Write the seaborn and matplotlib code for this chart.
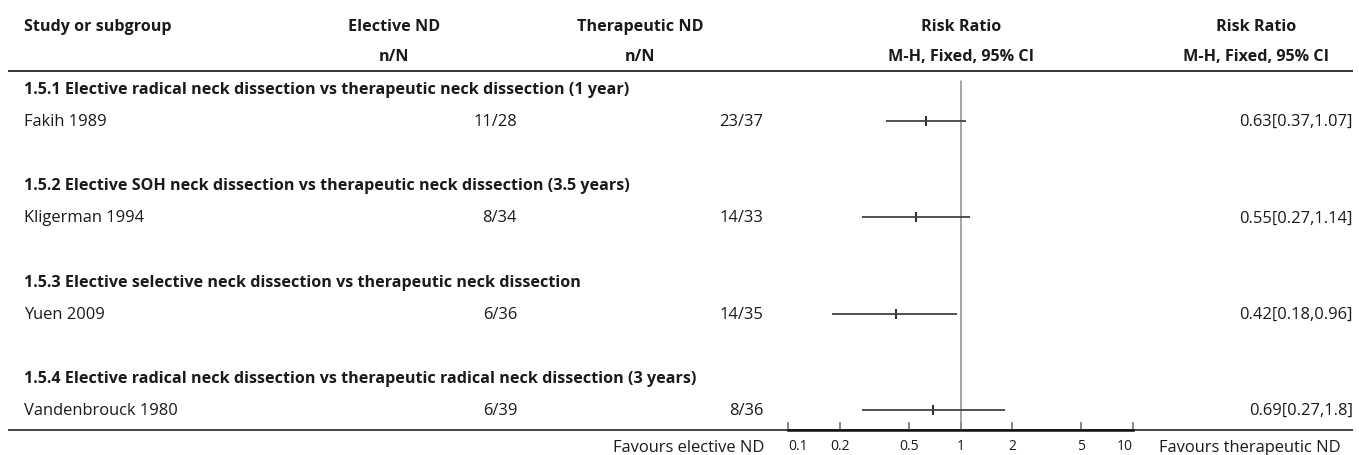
import numpy as np
import pandas as pd
import seaborn as sns
import matplotlib.pyplot as plt

sns.set_theme(style="white")
plt.rcParams['font.family'] = ['Open Sans', 'DejaVu Sans']

# data
subgroups = [
    "1.5.1 Elective radical neck dissection vs therapeutic neck dissection (1 year)",
    "1.5.2 Elective SOH neck dissection vs therapeutic neck dissection (3.5 years)",
    "1.5.3 Elective selective neck dissection vs therapeutic neck dissection",
    "1.5.4 Elective radical neck dissection vs therapeutic radical neck dissection (3 years)",
]
studies = ["Fakih 1989", "Kligerman 1994", "Yuen 2009", "Vandenbrouck 1980"]
elective = ["11/28", "8/34", "6/36", "6/39"]
therapeutic = ["23/37", "14/33", "14/35", "8/36"]
rr = [0.63, 0.55, 0.42, 0.69]
ci_low = [0.37, 0.27, 0.18, 0.27]
ci_high = [1.07, 1.14, 0.96, 1.8]
rr_text = ["0.63[0.37,1.07]", "0.55[0.27,1.14]", "0.42[0.18,0.96]", "0.69[0.27,1.8]"]
ticks = [0.1, 0.2, 0.5, 1, 2, 5, 10]
tick_labels = ["0.1", "0.2", "0.5", "1", "2", "5", "10"]

df = pd.DataFrame({"study": studies, "rr": rr, "lo": ci_low, "hi": ci_high})
df["row"] = [1, 4, 7, 10]  # each subgroup: heading, study, blank

W, H = 1359, 456
fig = plt.figure(figsize=(W / 100, H / 100), dpi=100)

# background axes in pixel coordinates for the table text
bg = fig.add_axes([0, 0, 1, 1])
bg.set_xlim(0, W)
bg.set_ylim(H, 0)
bg.axis("off")

row0, step = 90, 32.1
def ypix(r):
    return row0 + step * r

# column edges of the table (pixels)
cols = [8, 272, 517, 763, 1159, 1353]
def mid(i):
    return (cols[i] + cols[i + 1]) / 2

txt = "#1a1a1a"
hdr = dict(fontsize=11.6, fontweight="bold", color=txt, va="center")
reg = dict(fontsize=11.9, color=txt, va="center")

bg.text(24, 27, "Study or subgroup", ha="left", **hdr)
for i, (a, b) in enumerate([("Elective ND", "n/N"), ("Therapeutic ND", "n/N"),
                            ("Risk Ratio", "M-H, Fixed, 95% CI"),
                            ("Risk Ratio", "M-H, Fixed, 95% CI")]):
    bg.text(mid(i + 1), 27, a, ha="center", **hdr)
    bg.text(mid(i + 1), 57, b, ha="center", **hdr)

bg.plot([8, 1353], [71.7, 71.7], color="#111111", lw=1.2, solid_capstyle="butt")
bg.plot([8, 1353], [431, 431], color="#111111", lw=1.1, solid_capstyle="butt")

for i, sg in enumerate(subgroups):
    r = df["row"][i]
    bg.text(24, ypix(r - 1), sg, ha="left", **hdr)
    bg.text(24, ypix(r), studies[i], ha="left", **reg)
    bg.text(cols[2], ypix(r), elective[i], ha="right", **reg)
    bg.text(cols[3], ypix(r), therapeutic[i], ha="right", **reg)
    bg.text(cols[5], ypix(r), rr_text[i], ha="right", **reg)

bg.text(cols[3] + 1, 448, "Favours elective ND", ha="right", **reg)
bg.text(cols[4], 448, "Favours therapeutic ND", ha="left", **reg)

# forest axes
x0, x1 = 788, 1133
ytop, ybot = 71.7, 431
ax = fig.add_axes([x0 / W, 1 - ybot / H, (x1 - x0) / W, (ybot - ytop) / H])
ax.patch.set_alpha(0)
ax.set_xscale("log")
ax.set_xlim(0.1, 10)
ax.set_ylim((ybot - row0) / step, (ytop - row0) / step)

ax.axvline(1, ymin=0, ymax=1 - (82 - ytop) / (ybot - ytop), color="#8c8c8c", lw=1.1)
ax.hlines(df["row"], df["lo"], df["hi"], color="#444444", lw=1.3, clip_on=False)
sns.scatterplot(data=df, x="rr", y="row", marker="|", s=42, color="#333333",
                linewidth=1.5, ax=ax, legend=False, clip_on=False)

for s in ["top", "left", "right"]:
    ax.spines[s].set_visible(False)
ax.spines["bottom"].set_linewidth(1.8)
ax.spines["bottom"].set_color("#111111")
ax.set_xticks(ticks)
ax.set_xticklabels(tick_labels)
ax.minorticks_off()
ax.set_yticks([])
ax.set_xlabel("")
ax.set_ylabel("")
ax.tick_params(axis="x", direction="in", length=6, width=1.1, color="#666666",
               pad=6, labelsize=10, labelcolor=txt, bottom=True)
labs = ax.get_xticklabels()
labs[0].set_ha("left")
labs[-1].set_ha("right")

fig.savefig("out.png", dpi=100)
